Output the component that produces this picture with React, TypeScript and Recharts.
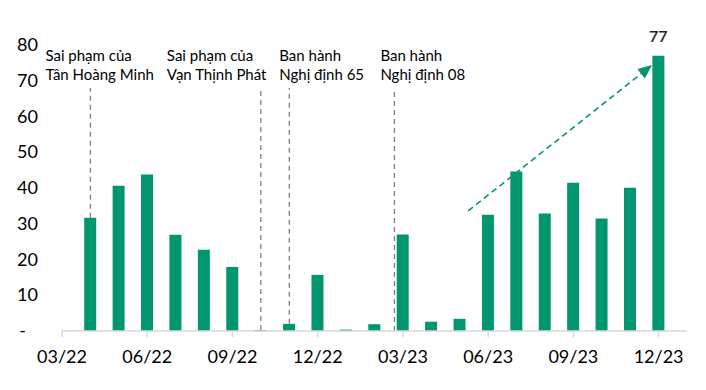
import { BarChart, Bar, XAxis, YAxis, ReferenceLine, LabelList } from 'recharts'

const months = [
  '03/22', '04/22', '05/22', '06/22', '07/22', '08/22', '09/22', '10/22', '11/22', '12/22', '01/23',
  '02/23', '03/23', '04/23', '05/23', '06/23', '07/23', '08/23', '09/23', '10/23', '11/23', '12/23',
]
const listings = [
  0, 31.7, 40.6, 43.8, 26.9, 22.7, 17.9, 0.3, 2.0, 15.7, 0.4,
  1.9, 27.0, 2.6, 3.4, 32.5, 44.6, 32.9, 41.5, 31.5, 40.1, 77,
]
const yTicks = [0, 10, 20, 30, 40, 50, 60, 70, 80]
const xTicks = [0, 3, 6, 9, 12, 15, 18, 21]

// vertical event markers: position on the month axis, text lines
const events = [
  { at: 1, top: 68, lines: ['Sai phạm của', 'Tân Hoàng Minh'], dx: -45 },
  { at: 7, top: 68, lines: ['Sai phạm của', 'Vạn Thịnh Phát'], dx: -94 },
  { at: 8, top: 68, lines: ['Ban hành', 'Nghị định 65'], dx: -10 },
  { at: 11.7, top: 68, lines: ['Ban hành', 'Nghị định 08'], dx: -14 },
]
const trendFrom = { x: 14.3, y: 33.6 }
const trendTo = { x: 20.77, y: 74.4 }

const GREEN = '#019670'
const FONT = 'Lato, "Liberation Sans", sans-serif'
const PEAK = Math.max(...listings)

const data = listings.map((v, i) => ({ idx: i, month: months[i], value: v }))

// the dashed marker sits behind the bar, so start it at the bar top
const lineBase = (at: number) => (Number.isInteger(at) ? listings[at] : 0)

const YTick = (props: any) => {
  const { x, y, payload } = props
  if (payload.value === 0) {
    return <text x={x - 12} y={y} dy={6} textAnchor="end" fontSize={18} fill="#000" fontFamily={FONT}>-</text>
  }
  return <text x={x} y={y} dy={6} textAnchor="end" fontSize={18} fill="#000" fontFamily={FONT}>{payload.value}</text>
}

const eventShape = (lines: string[], dx: number) => (p: any) => {
  const { x1, y1, x2, y2 } = p
  const top = Math.min(y1, y2)
  return (
    <g>
      <line x1={x1} y1={y1} x2={x2} y2={y2} stroke="#7f7f7f" strokeWidth={1.3} strokeDasharray="5 4" />
      {lines.map((t, i) => (
        <text key={i} x={x1 + dx} y={top - 27 + i * 19} fontSize={15} fill="#000" fontFamily={FONT}>{t}</text>
      ))}
    </g>
  )
}

const arrowShape = (p: any) => {
  const { x1, y1, x2, y2 } = p
  const ang = Math.atan2(y2 - y1, x2 - x1)
  const len = 14
  const half = 6
  const bx = x2 - len * Math.cos(ang)
  const by = y2 - len * Math.sin(ang)
  const pts = [
    [x2, y2],
    [bx + half * Math.sin(ang), by - half * Math.cos(ang)],
    [bx - half * Math.sin(ang), by + half * Math.cos(ang)],
  ].map(q => q.join(',')).join(' ')
  return (
    <g>
      <line x1={x1} y1={y1} x2={bx} y2={by} stroke={GREEN} strokeWidth={1.6} strokeDasharray="6 4" />
      <polygon points={pts} fill={GREEN} />
    </g>
  )
}

const TopLabel = (props: any) => {
  const { x, y, width, value } = props
  if (value !== PEAK) return null
  return (
    <text x={Number(x) + Number(width) / 2} y={Number(y) - 14} textAnchor="middle" fontSize={16} fontWeight={600} fill="#222" fontFamily={FONT}>{value}</text>
  )
}

export default function App() {
  return (
    <div style={{ position: 'absolute', left: 0, top: 0, width: 706, height: 390, background: '#fff' }}>
      <BarChart width={706} height={390} data={data} margin={{ top: 45, right: 19, bottom: 29, left: 0 }}>
        <XAxis
          dataKey="idx"
          type="number"
          domain={[0, 22]}
          ticks={xTicks}
          tickFormatter={(v: number) => months[v]}
          axisLine={{ stroke: '#d9d9d9', strokeWidth: 1.5 }}
          tickLine={{ stroke: '#d9d9d9', strokeWidth: 1.5 }}
          tickSize={6}
          tickMargin={13}
          height={30}
          tick={{ fill: '#000', fontSize: 18, fontFamily: FONT }}
          interval={0}
        />
        <YAxis
          type="number"
          domain={[0, 80]}
          ticks={yTicks}
          width={62}
          axisLine={false}
          tickLine={false}
          tickSize={0}
          tickMargin={24}
          tick={<YTick />}
          interval={0}
        />
        {events.map((e, i) => (
          <ReferenceLine
            key={i}
            segment={[{ x: e.at, y: lineBase(e.at) }, { x: e.at, y: e.top }]}
            shape={eventShape(e.lines, e.dx)}
          />
        ))}
        <Bar dataKey="value" fill={GREEN} barSize={12} isAnimationActive={false}>
          <LabelList dataKey="value" content={<TopLabel />} />
        </Bar>
        <ReferenceLine
          segment={[trendFrom, trendTo]}
          shape={arrowShape}
        />
      </BarChart>
    </div>
  )
}
